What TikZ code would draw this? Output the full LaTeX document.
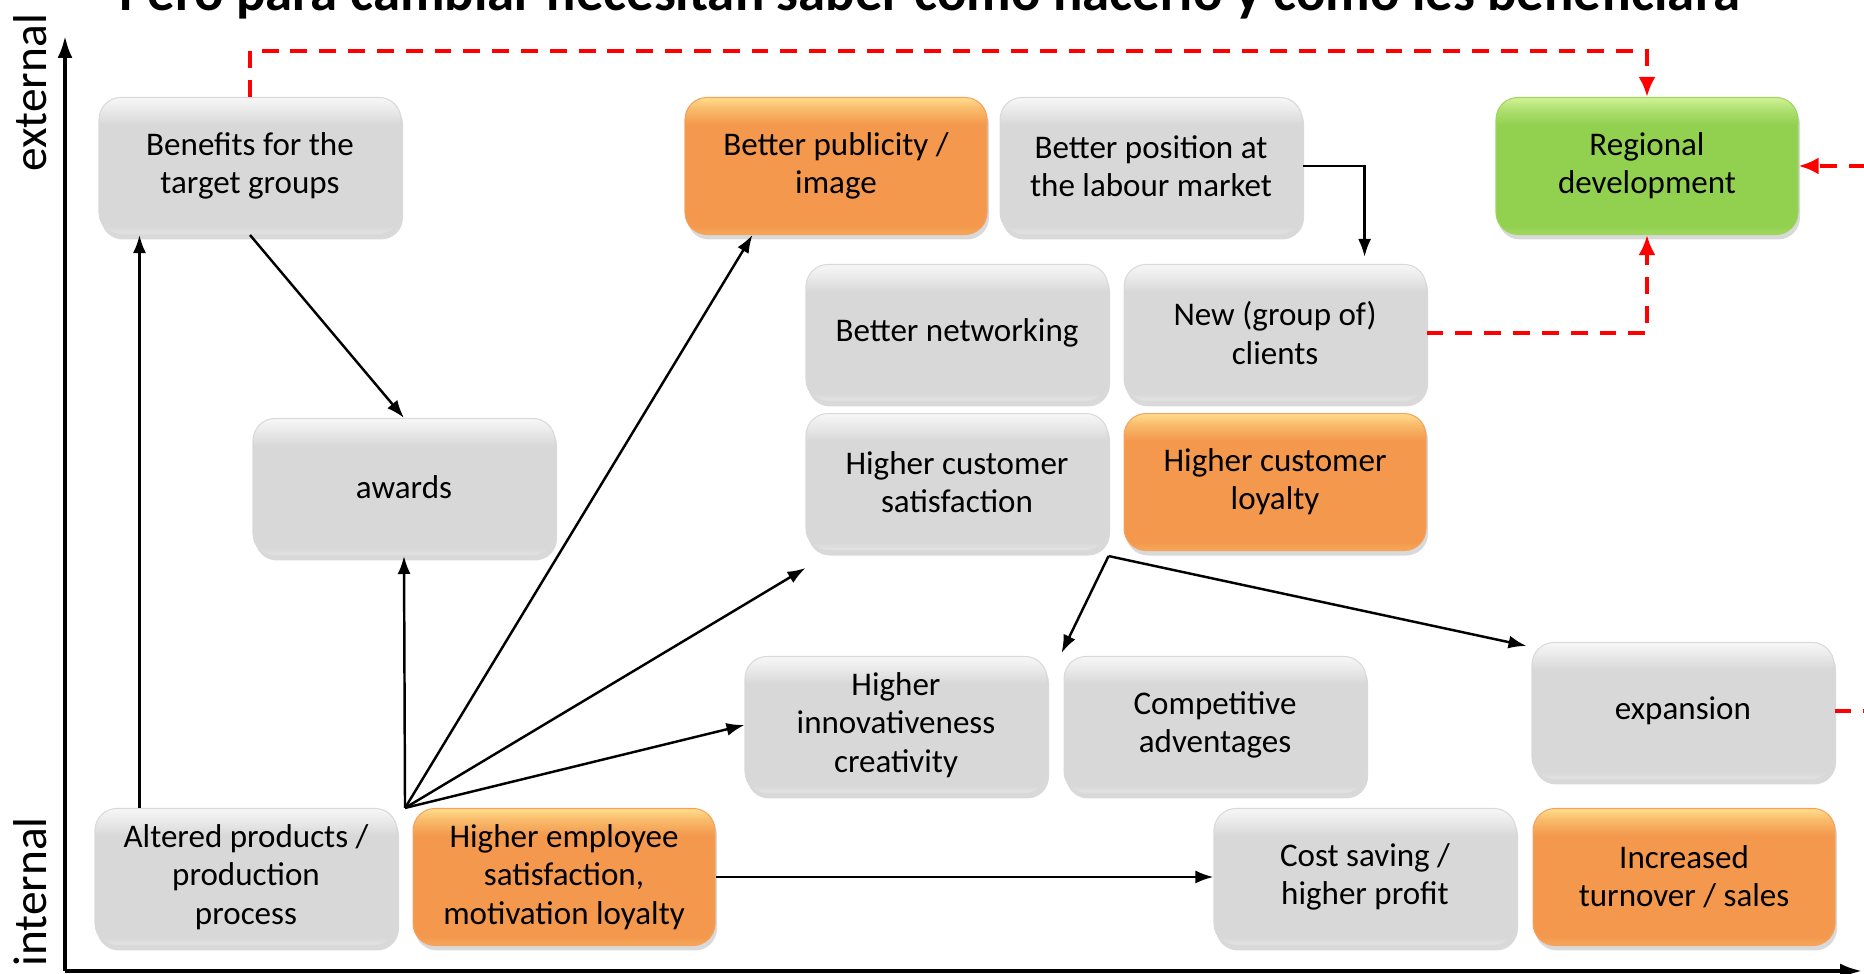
\documentclass[tikz,border=0pt]{standalone}
\usepackage{fontspec}
\setmainfont{Carlito}
\usetikzlibrary{arrows.meta,shapes,positioning,shadows,calc}

\definecolor{boxgray}{RGB}{216,216,216}
\definecolor{boxorange}{RGB}{243,152,76}
\definecolor{boxgreen}{RGB}{146,208,80}
\definecolor{hiorange}{RGB}{255,222,140}
\definecolor{higreen}{RGB}{210,242,150}
\colorlet{grayedge}{boxgray!70!white}
\colorlet{graytop}{boxgray!20!white}
\colorlet{grayhi}{boxgray!50!white}
\colorlet{orangehi}{boxorange!50!hiorange}
\colorlet{orangeedge}{boxorange!75!hiorange}
\colorlet{greenhi}{boxgreen!50!higreen}
\colorlet{greenedge}{boxgreen!75!higreen}

% glossy bevel look of the boxes
\pgfdeclareverticalshading{grayglass}{100bp}{color(0bp)=(grayedge); color(25bp)=(grayedge); color(28bp)=(boxgray); color(65bp)=(boxgray); color(71bp)=(grayhi); color(75bp)=(graytop); color(100bp)=(graytop)}
\pgfdeclareverticalshading{orangeglass}{100bp}{color(0bp)=(orangeedge); color(25bp)=(orangeedge); color(28bp)=(boxorange); color(65bp)=(boxorange); color(71bp)=(orangehi); color(75bp)=(hiorange); color(100bp)=(hiorange)}
\pgfdeclareverticalshading{greenglass}{100bp}{color(0bp)=(greenedge); color(25bp)=(greenedge); color(28bp)=(boxgreen); color(65bp)=(boxgreen); color(71bp)=(greenhi); color(75bp)=(higreen); color(100bp)=(higreen)}

\begin{document}
\begin{tikzpicture}[
		auto,
		>={Latex[length=0.18cm,width=0.13cm]},
		block/.style = { rectangle, rounded corners=0.22cm, shading=grayglass,
			draw=white!85!black, line width=0.3pt,
			minimum width=3.02cm, minimum height=1.37cm, inner sep=2pt,
			align=center, font=\fontsize{9.4}{10.9}\selectfont,
			drop shadow={shadow xshift=0.02cm, shadow yshift=-0.05cm, opacity=0.3} },
		block orange/.style = { block, shading=orangeglass, draw=boxorange!90!white },
		block green/.style  = { block, shading=greenglass, draw=boxgreen!90!white },
		line/.style  = { draw, line width=0.7pt, -> },
		link/.style  = { draw, red, line width=1.1pt, dash pattern=on 4.8pt off 3.4pt,
			-{Latex[length=0.2cm,width=0.17cm]} },
		axis/.style  = { draw, line width=1pt, -{Latex[length=0.22cm,width=0.15cm]} },
		side/.style  = { rotate=90, anchor=base, font=\fontsize{13.5}{15}\selectfont },
	]
	\useasboundingbox (0,0) rectangle (18.64,9.74);
	\clip (0,0) rectangle (18.64,9.74);
	% title and axes
	\node [anchor=base, font=\bfseries\fontsize{15.6}{18}\selectfont] (title) at (9.3,9.63)
		{Pero para cambiar necesitan saber cómo hacerlo y cómo les beneficiará};
	\coordinate (origin) at (0.65,0.03);
	\coordinate (ytop) at (0.65,9.38);
	\coordinate (xend) at (18.62,0.03);
	\path [axis] (origin) -- (ytop);
	\path [axis] (origin) -- (xend);
	\node [side] (external) at (0.46,8.81) {external};
	\node [side] (internal) at (0.46,0.82) {internal};
	% Define nodes
	\begin{scope}[yshift=-0.03cm]
		\node [block] (benefits) at (2.50,8.11) {Benefits for the\\target groups};
		\node [block] (awards) at (4.04,4.90) {awards};
		\node [block orange] (publicity) at (8.36,8.11) {Better publicity /\\image};
		\node [block, right=0.12cm of publicity] (position) {Better position at\\the labour market};
		\node [block green] (regional) at (16.47,8.11) {Regional\\development};
		\node [block] (networking) at (9.57,6.44) {Better networking};
		\node [block, right=0.15cm of networking] (clients) {New (group of)\\clients};
		\node [block, below=0.11cm of networking] (satisfaction) {Higher customer\\satisfaction};
		\node [block orange, right=0.15cm of satisfaction] (loyalty) {Higher customer\\loyalty};
		\node [block] (innovation) at (8.96,2.52) {Higher\\innovativeness\\creativity};
		\node [block, right=0.16cm of innovation] (competitive) {Competitive\\adventages};
		\node [block] (expansion) at (16.83,2.66) {expansion};
		\node [block] (altered) at (2.46,1.00) {Altered products /\\production\\process};
		\node [block orange, right=0.15cm of altered] (employee) {Higher employee\\satisfaction,\\motivation loyalty};
		\node [block] (cost) at (13.65,1.00) {Cost saving /\\higher profit};
		\node [block orange, right=0.16cm of cost] (turnover) {Increased\\turnover / sales};
	\end{scope}
	% connect the nodes
	\coordinate (hub) at ($(altered.north east)!0.5!(employee.north west)$);
	\coordinate (split) at ([yshift=-0.05cm]satisfaction.south east);
	\begin{scope}
		\path [line] (benefits.south) -- (awards.north);
		\path [line] ([xshift=0.45cm]altered.north west) -- ([xshift=0.45cm]altered.north west |- benefits.south);
		\path [line] (hub) -- (awards.south);
		\path [line] (hub) -- ([xshift=0.68cm]publicity.south west);
		\path [line] (hub) -- ([yshift=-0.17cm]satisfaction.south west);
		\path [line] (hub) -- (innovation.west);
		\path [line] (employee.east) -- (cost.west);
		\path [line] (position.east) -| ([xshift=-0.62cm,yshift=0.07cm]clients.north east);
		\path [line] (split) -- ([xshift=-0.02cm,yshift=0.03cm]competitive.north west);
		\path [line] (split) -- ([xshift=-0.05cm,yshift=-0.04cm]expansion.north west);
		\path [link] (benefits.north) -- ++(0,0.46) -| (regional.north);
		\path [link] (clients.east) -| (regional.south);
		\path [link] (expansion.east) -- ++(0.6,0) |- (regional.east);
	\end{scope}
\end{tikzpicture}
\end{document}
